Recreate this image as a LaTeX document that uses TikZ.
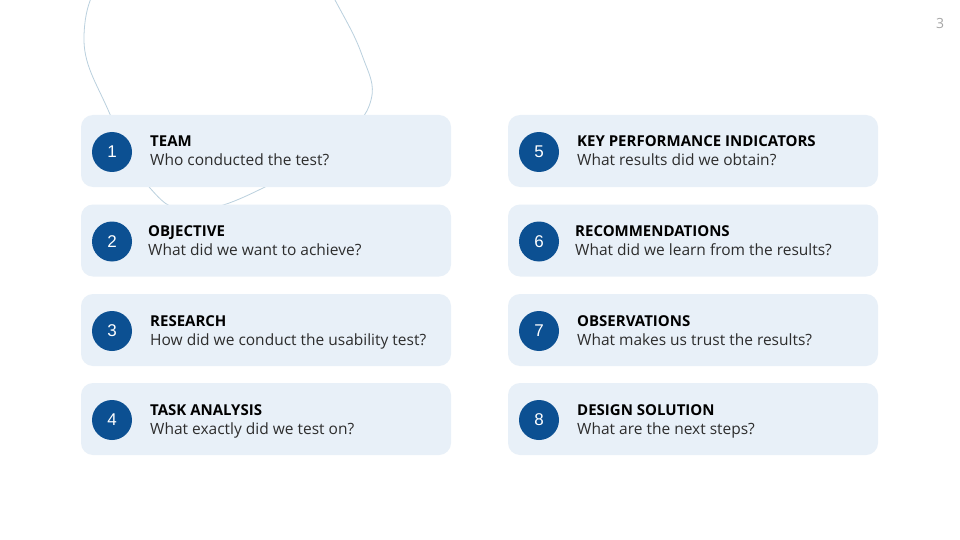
\documentclass[tikz,border=0pt]{standalone}
\usepackage{fontspec}
\setmainfont{Open Sans}
\newfontfamily\numfont{Liberation Sans}
\usepackage{tikz}
\usetikzlibrary{positioning}
\definecolor{cardblue}{RGB}{232,240,248}
\definecolor{numblue}{RGB}{12,80,146}
\definecolor{blobline}{RGB}{186,208,222}
\definecolor{subgray}{RGB}{45,45,45}
\tikzset{
    card/.style = {rectangle, rounded corners=12pt, fill=cardblue, minimum width=370pt, minimum height=72pt, inner sep=0pt},
    num/.style = {circle, fill=numblue, minimum size=40pt, inner sep=0pt, text=white, font=\numfont\fontsize{17pt}{17pt}\selectfont},
    title/.style = {anchor=base west, inner sep=0pt, font=\fontsize{15pt}{15pt}\selectfont\bfseries},
    subtitle/.style = {anchor=base west, inner sep=0pt, text=subgray, font=\fontsize{15.5pt}{15.5pt}\selectfont},
    pagenum/.style = {anchor=base, inner sep=0pt, text=gray!70, font=\fontsize{14pt}{14pt}\selectfont}}

\begin{document}
\begin{tikzpicture}[x=1pt,y=-1pt]
        \useasboundingbox (0,0) rectangle (960,540);
        \fill[white] (0,0) rectangle (960,540);
        \begin{scope}
        \clip (0,0) rectangle (960,540);
        \draw[blobline, line width=0.8pt] plot[smooth cycle, tension=0.7] coordinates {
            (84,35) (109,112) (150,188) (195,210) (267,186) (340,138) (371,100) (362,55) (335,0) (295,-70) (200,-95) (115,-38)};
        \end{scope}
        \node[pagenum] (page) at (940,29) {3};
        % left column
        \node[card] (team) at (266,151) {};
        \node[num] (n1) at (112,152) {1};
        \node[title] (t1) at (150,147) {TEAM};
        \node[subtitle] (s1) at (150,166) {Who conducted the test?};
        \node[card] (objective) at (266,240.5) {};
        \node[num] (n2) at (112,241.5) {2};
        \node[title] (t2) at (148,236.5) {OBJECTIVE};
        \node[subtitle] (s2) at (148,255.5) {What did we want to achieve?};
        \node[card] (research) at (266,330) {};
        \node[num] (n3) at (112,331) {3};
        \node[title] (t3) at (150,326) {RESEARCH};
        \node[subtitle] (s3) at (150,345) {How did we conduct the usability test?};
        \node[card] (task) at (266,419) {};
        \node[num] (n4) at (112,420) {4};
        \node[title] (t4) at (150,415) {TASK ANALYSIS};
        \node[subtitle] (s4) at (150,434) {What exactly did we test on?};
        % right column
        \node[card] (kpi) at (693,151) {};
        \node[num] (n5) at (539,152) {5};
        \node[title] (t5) at (577,147) {KEY PERFORMANCE INDICATORS};
        \node[subtitle] (s5) at (577,166) {What results did we obtain?};
        \node[card] (recommend) at (693,240.5) {};
        \node[num] (n6) at (539,241.5) {6};
        \node[title] (t6) at (575,236.5) {RECOMMENDATIONS};
        \node[subtitle] (s6) at (575,255.5) {What did we learn from the results?};
        \node[card] (observe) at (693,330) {};
        \node[num] (n7) at (539,331) {7};
        \node[title] (t7) at (577,326) {OBSERVATIONS};
        \node[subtitle] (s7) at (577,345) {What makes us trust the results?};
        \node[card] (design) at (693,419) {};
        \node[num] (n8) at (539,420) {8};
        \node[title] (t8) at (577,415) {DESIGN SOLUTION};
        \node[subtitle] (s8) at (577,434) {What are the next steps?};
    \end{tikzpicture}
\end{document}
